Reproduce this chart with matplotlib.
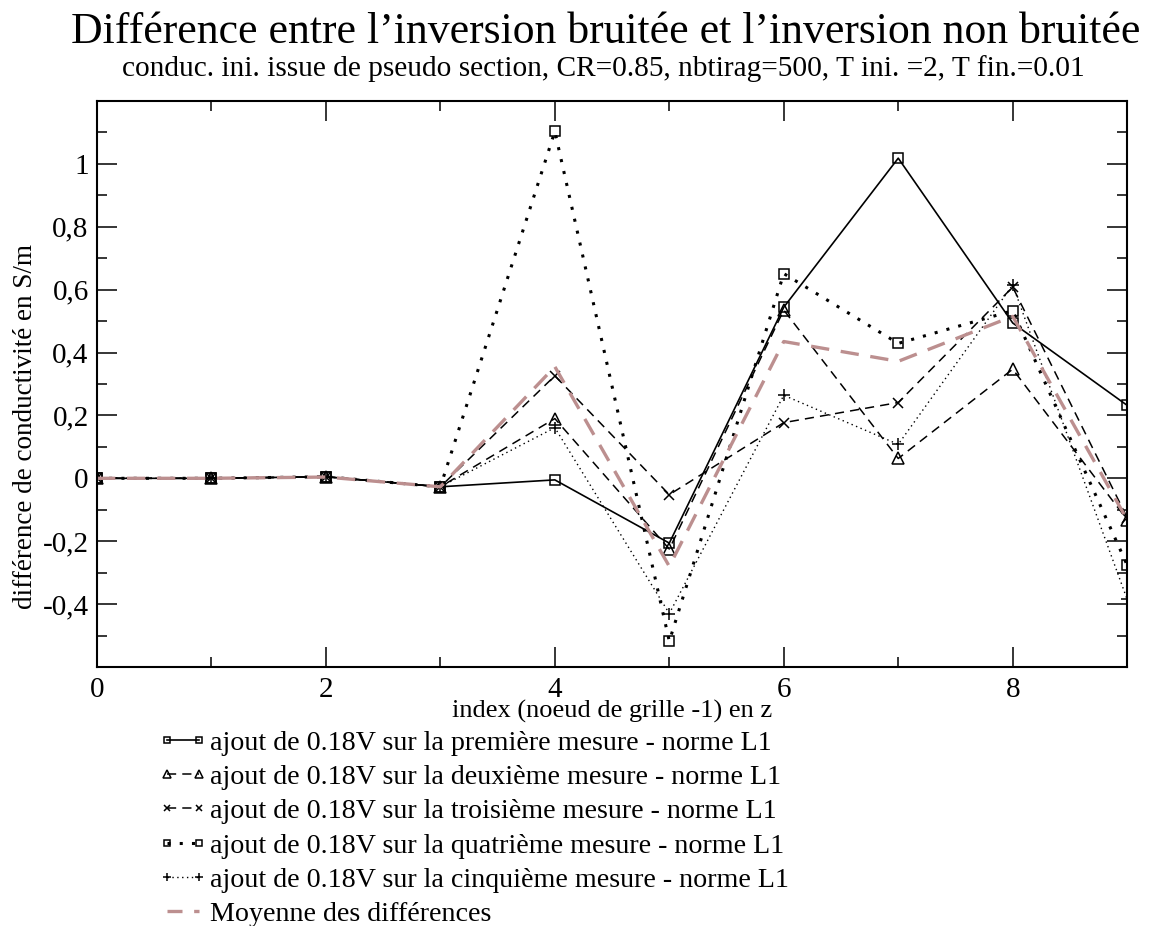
import numpy as np
import matplotlib
matplotlib.use("Agg")
import matplotlib.pyplot as plt
from matplotlib.ticker import MultipleLocator, FuncFormatter

plt.rcParams['font.family'] = ['Liberation Serif', 'DejaVu Serif']

x = [0, 1, 2, 3, 4, 5, 6, 7, 8, 9]
mes1 = [0.0, 0.0, 0.005, -0.027, -0.005, -0.206, 0.544, 1.018, 0.494, 0.232]
mes2 = [0.0, 0.0, 0.005, -0.027, 0.190, -0.225, 0.535, 0.063, 0.347, -0.132]
mes3 = [0.0, 0.0, 0.005, -0.027, 0.326, -0.052, 0.177, 0.241, 0.608, -0.125]
mes4 = [0.0, 0.0, 0.005, -0.027, 1.103, -0.518, 0.651, 0.429, 0.533, -0.276]
mes5 = [0.0, 0.0, 0.005, -0.027, 0.161, -0.430, 0.264, 0.108, 0.615, -0.385]
moyenne = [0.0, 0.0, 0.004, -0.027, 0.355, -0.280, 0.435, 0.372, 0.515, -0.132]

labels = ["ajout de 0.18V sur la première mesure - norme L1",
          "ajout de 0.18V sur la deuxième mesure - norme L1",
          "ajout de 0.18V sur la troisième mesure - norme L1",
          "ajout de 0.18V sur la quatrième mesure - norme L1",
          "ajout de 0.18V sur la cinquième mesure - norme L1",
          "Moyenne des différences"]

fig = plt.figure(figsize=(11.49, 9.26), dpi=100)
ax = fig.add_axes([0.0844, 0.2797, 0.8966, 0.6113])

ms = 7
ax.plot(x, mes1, color='black', lw=1.2, ls='-', marker='s', ms=ms,
        mfc='none', mec='black', mew=1.1, label=labels[0])
ax.plot(x, mes2, color='black', lw=1.1, ls=(0, (6, 4)), marker='^', ms=ms + 1,
        mfc='none', mec='black', mew=1.1, label=labels[1])
ax.plot(x, mes3, color='black', lw=1.1, ls=(0, (6, 4)), marker='x', ms=ms,
        mec='black', mew=1.1, label=labels[2])
ax.plot(x, mes4, color='black', lw=2.2, ls=(0, (1, 3)), marker='s', ms=ms,
        mfc='none', mec='black', mew=1.1, label=labels[3])
ax.plot(x, mes5, color='black', lw=1.0, ls=(0, (1, 2.5)), marker='+', ms=ms + 2,
        mec='black', mew=1.1, label=labels[4])
ax.plot(x, moyenne, color='#bc8f8f', lw=2.4, ls=(0, (5.5, 3.5)), label=labels[5])

ax.set_xlim(0, 9)
ax.set_ylim(-0.6, 1.2)
ax.xaxis.set_major_locator(MultipleLocator(2))
ax.xaxis.set_minor_locator(MultipleLocator(1))
ax.yaxis.set_major_locator(MultipleLocator(0.2))
ax.yaxis.set_minor_locator(MultipleLocator(0.1))


def fmt_y(v, pos):
    if v < -0.45 or v > 1.05:
        return ''
    if abs(v) < 1e-9:
        return '0'
    s = ('%.1f' % v).replace('.', ',')
    if s.endswith(',0'):
        s = s[:-2]
    return s


ax.yaxis.set_major_formatter(FuncFormatter(fmt_y))
ax.xaxis.set_major_formatter(FuncFormatter(lambda v, p: '%d' % v))

ax.tick_params(which='both', direction='in', top=True, right=True, width=1.1)
ax.tick_params(which='major', length=14.4, labelsize=21, pad=6)
ax.tick_params(axis='x', which='major', pad=7)
ax.tick_params(which='minor', length=7.2)
for sp in ax.spines.values():
    sp.set_linewidth(1.5)

ax.set_xlabel("index (noeud de grille -1) en z", fontsize=19, labelpad=-2)
ax.set_ylabel("différence de conductivité en S/m", fontsize=19.5)
ax.yaxis.set_label_coords(-0.057, 0.424)

fig.text(0.5275, 0.965, "Différence entre l’inversion bruitée et l’inversion non bruitée",
         ha='center', va='center', fontsize=31.5)
fig.text(0.525, 0.926, "conduc. ini. issue de pseudo section, CR=0.85, nbtirag=500, T ini. =2, T fin.=0.01",
         ha='center', va='center', fontsize=21.2)

leg = fig.legend(loc='upper left', bbox_to_anchor=(0.138, 0.2117), frameon=False,
                 fontsize=20.2, handlelength=1.75, handletextpad=0.08, labelspacing=0.31,
                 numpoints=2, markerscale=0.7, borderaxespad=0, borderpad=0)
leg.get_lines()[5].set_linestyle((0, (4.5, 3.5)))

fig.savefig("out.png", dpi=100)
